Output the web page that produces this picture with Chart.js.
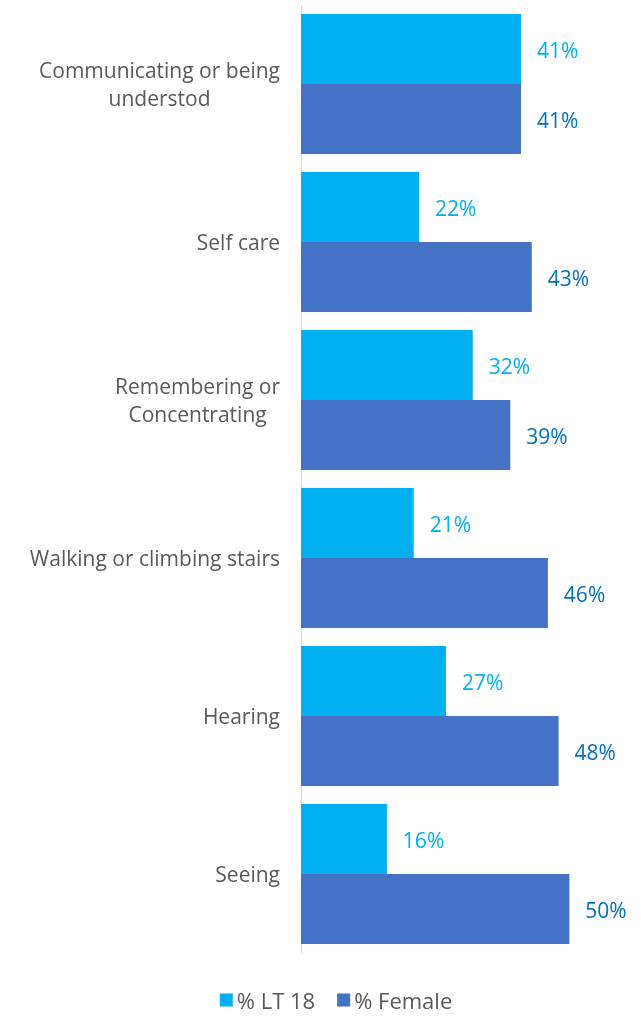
<!DOCTYPE html>
<html>
<head>
<meta charset="utf-8">
<script src="https://cdn.jsdelivr.net/npm/chart.js@4/dist/chart.umd.min.js"></script>
<style>
  html, body { margin: 0; padding: 0; background: #ffffff; }
  #wrap { width: 641px; height: 1016px; position: relative; }
</style>
</head>
<body>
<div id="wrap"><canvas id="chart"></canvas></div>
<script>
// Categories (multi-line labels) and series values, in percent
const categories = [
  ["Communicating or being", "understod"],
  ["Self care"],
  ["Remembering or", "Concentrating"],
  ["Walking or climbing stairs"],
  ["Hearing"],
  ["Seeing"]
];
const seriesNames = ["% LT 18", "% Female"];
const lt18Values = [41, 22, 32, 21, 27, 16];
const femaleValues = [41, 43, 39, 46, 48, 50];

const FONT = "'Open Sans', sans-serif";
const TEXT_GREY = "#595959";

// Category labels: block right-aligned against the axis, lines centred within the block
const categoryLabelPlugin = {
  id: "categoryLabels",
  afterDraw(chart) {
    const ctx = chart.ctx;
    const y = chart.scales.y;
    const size = 21, lineH = 28, gap = 21;
    ctx.save();
    ctx.font = size + "px " + FONT;
    ctx.fillStyle = TEXT_GREY;
    ctx.textAlign = "center";
    ctx.textBaseline = "middle";
    chart.data.labels.forEach((lines, i) => {
      const cy = y.getPixelForValue(i) + 2;
      const w = Math.max(...lines.map(l => ctx.measureText(l).width));
      const cx = chart.chartArea.left - gap - w / 2;
      const top = cy - (lines.length - 1) * lineH / 2;
      lines.forEach((l, k) => ctx.fillText(l, cx, top + k * lineH));
    });
    ctx.restore();
  }
};

// Value labels just past the end of each bar
const valueLabelPlugin = {
  id: "valueLabels",
  afterDatasetsDraw(chart) {
    const ctx = chart.ctx;
    ctx.save();
    ctx.font = "21px " + FONT;
    ctx.textAlign = "left";
    ctx.textBaseline = "middle";
    chart.data.datasets.forEach((ds, di) => {
      const meta = chart.getDatasetMeta(di);
      ctx.fillStyle = ds.labelColor;
      meta.data.forEach((bar, i) => {
        ctx.fillText(ds.data[i] + "%", bar.x + 16, bar.y + 3);
      });
    });
    ctx.restore();
  }
};

// Compact legend under the plot: square swatch followed closely by its series name
const bottomLegendPlugin = {
  id: "bottomLegend",
  afterDraw(chart) {
    const ctx = chart.ctx;
    const box = 13, boxGap = 4, itemGap = 22, centreX = 336, centreY = 1000;
    ctx.save();
    ctx.font = "22px " + FONT;
    ctx.textBaseline = "middle";
    ctx.textAlign = "left";
    const items = chart.data.datasets.map(ds => ({
      text: ds.label, color: ds.backgroundColor, w: ctx.measureText(ds.label).width
    }));
    const total = items.reduce((s, it) => s + box + boxGap + it.w, 0) + itemGap * (items.length - 1);
    let x = centreX - total / 2;
    items.forEach(it => {
      ctx.fillStyle = it.color;
      ctx.fillRect(x, centreY - box / 2, box, box);
      x += box + boxGap;
      ctx.fillStyle = TEXT_GREY;
      ctx.fillText(it.text, x, centreY + 3);
      x += it.w + itemGap;
    });
    ctx.restore();
  }
};

new Chart(document.getElementById("chart"), {
  type: "bar",
  data: {
    labels: categories,
    datasets: [
      { label: seriesNames[0], data: lt18Values, backgroundColor: "#00B0F0", labelColor: "#00B0F0" },
      { label: seriesNames[1], data: femaleValues, backgroundColor: "#4472C4", labelColor: "#0070C0" }
    ]
  },
  options: {
    indexAxis: "y",
    responsive: true,
    maintainAspectRatio: false,
    animation: false,
    layout: { padding: { top: 5, right: 18, bottom: 63, left: 0 } },
    datasets: {
      bar: { categoryPercentage: 140 / 158, barPercentage: 1.0, borderWidth: 0 }
    },
    scales: {
      x: {
        display: false,
        min: 0,
        max: 60
      },
      y: {
        grid: { display: false },
        border: { display: true, color: "#D9D9D9", width: 1 },
        ticks: { display: false },
        afterFit(scale) { scale.width = 301; }
      }
    },
    plugins: {
      legend: { display: false },
      tooltip: { enabled: false }
    }
  },
  plugins: [categoryLabelPlugin, valueLabelPlugin, bottomLegendPlugin]
});
</script>
</body>
</html>
